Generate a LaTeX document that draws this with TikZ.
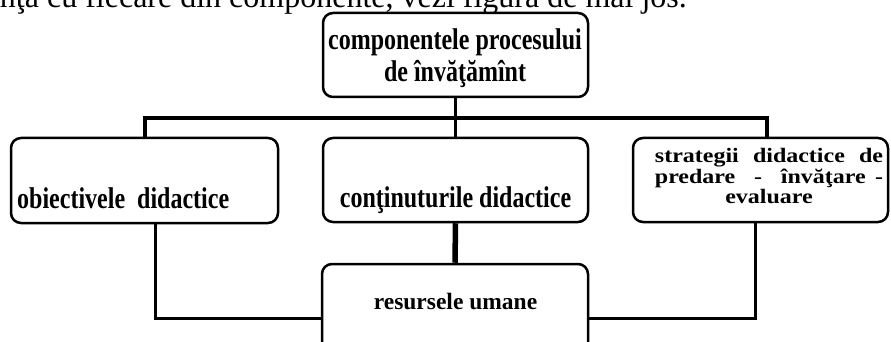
\documentclass[tikz,border=0pt]{standalone}
\usepackage{fontspec}
\usepackage{graphicx}
\setmainfont{Liberation Serif}
\tikzset{
  box/.style={draw, line width=2.5pt, rounded corners=10pt, inner sep=0pt},
  link/.style={line width=3.5pt},
  lowlink/.style={line width=3pt},
  heavylink/.style={line width=5.5pt},
  bigtxt/.style={inner sep=0pt, font=\fontsize{30}{32}\selectfont\bfseries},
  midtxt/.style={inner sep=0pt, font=\fontsize{23.5}{25}\selectfont\bfseries},
  smalltxt/.style={inner sep=0pt, font=\fontsize{20.5}{21}\selectfont\bfseries},
  introtxt/.style={inner sep=0pt, font=\fontsize{32}{34}\selectfont}
}
\begin{document}
\begin{tikzpicture}[x=1pt,y=-1pt]
\clip (0,0) rectangle (891,342);
\fill[white] (0,0) rectangle (891,342);
% intro line (cut off at top)
\node[introtxt, anchor=base east] (intro) at (687,8) {nţa cu fiecare din componente, vezi figura de mai jos.};
% boxes
\node[box, minimum width=265pt, minimum height=84pt] (top) at (455.5,55) {};
\node[box, minimum width=267pt, minimum height=85pt] (left) at (144.5,180.5) {};
\node[box, minimum width=265pt, minimum height=84pt] (mid) at (455.5,180) {};
\node[box, minimum width=255pt, minimum height=84pt] (right) at (760.5,180) {};
\node[box, minimum width=266pt, minimum height=90pt] (bot) at (455,309) {};
% texts
\node[bigtxt, anchor=base] (c1) at (455,50) {\scalebox{0.8}[1]{componentele procesului}};
\node[bigtxt, anchor=base] (c2) at (455,82) {\scalebox{0.8}[1]{de învăţămînt}};
\node[bigtxt, anchor=base west] (ob) at (17,208) {\scalebox{0.8}[1]{obiectivele\ \ didactice}};
\node[bigtxt, anchor=base] (co) at (455.5,207) {\scalebox{0.8}[1]{conţinuturile didactice}};
\node[midtxt, anchor=base] (ru) at (455.5,309) {resursele umane};
\node[smalltxt, anchor=base] (s1) at (769,162) {\scalebox{1.17}[1]{\makebox[195pt][s]{strategii didactice de}}};
\node[smalltxt, anchor=base] (s2) at (769,183) {\scalebox{1.17}[1]{\makebox[195pt][s]{predare\ \ -\ \ învăţare -}}};
\node[smalltxt, anchor=base] (s3) at (769,203) {\scalebox{1.17}[1]{evaluare}};
% connectors
\coordinate (hl) at (145,118);
\coordinate (hr) at (767,118);
\coordinate (bl) at (155,318);
\coordinate (br) at (755,318);
\draw[link] (top.south) -- (mid.north);
\draw[link] (hl |- left.north) -- (hl) -- (hr) -- (hr |- right.north);
\draw[heavylink] (mid.south) -- (bot.north);
\draw[lowlink] (bl |- left.south) -- (bl) -- (bl -| bot.west);
\draw[lowlink] (br |- right.south) -- (br) -- (br -| bot.east);
\end{tikzpicture}
\end{document}
